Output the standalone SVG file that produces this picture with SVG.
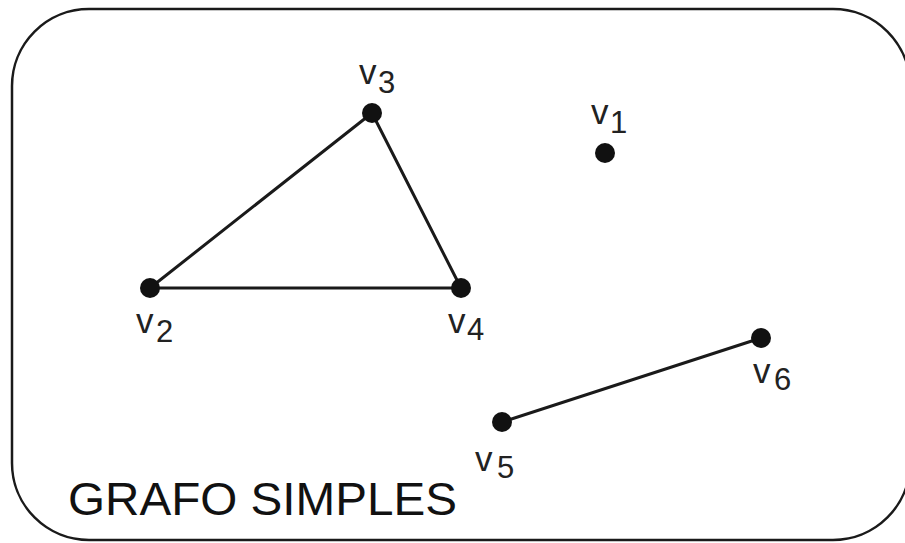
<svg xmlns="http://www.w3.org/2000/svg" width="905" height="543" viewBox="0 0 905 543">
<style>
.frame{fill:none;stroke:#1a1a1a;stroke-width:2.5}
.edge{stroke:#1a1a1a;stroke-width:3;stroke-linecap:round}
.dot{fill:#111}
.v{font-family:"Liberation Sans",Arial,sans-serif;font-size:35px;fill:#222}
.d{font-family:"Liberation Sans",Arial,sans-serif;font-size:31px;fill:#222}
.title{font-family:"Liberation Sans",Arial,sans-serif;font-size:46px;fill:#111}
</style>
<rect width="905" height="543" fill="#fff"/>
<rect class="frame" x="12" y="9" width="898" height="531" rx="77" ry="77"/>
<g id="connectors">
<line class="edge" x1="372" y1="113" x2="150" y2="288"/>
<line class="edge" x1="372" y1="113" x2="461" y2="288"/>
<line class="edge" x1="150" y1="288" x2="461" y2="288"/>
<line class="edge" x1="502" y1="422" x2="761" y2="338"/>
</g>
<g id="v1"><circle class="dot" cx="605" cy="153" r="10"/><text class="v" x="591" y="124">v</text><text class="d" x="610" y="133">1</text></g>
<g id="v2"><circle class="dot" cx="150" cy="288" r="10"/><text class="v" x="136" y="333">v</text><text class="d" x="156" y="342">2</text></g>
<g id="v3"><circle class="dot" cx="372" cy="113" r="10"/><text class="v" x="359" y="84">v</text><text class="d" x="378" y="93">3</text></g>
<g id="v4"><circle class="dot" cx="461" cy="288" r="10"/><text class="v" x="448" y="333">v</text><text class="d" x="467" y="340">4</text></g>
<g id="v5"><circle class="dot" cx="502" cy="422" r="10"/><text class="v" x="475" y="471">v</text><text class="d" x="497" y="478">5</text></g>
<g id="v6"><circle class="dot" cx="761" cy="338" r="10"/><text class="v" x="753" y="383">v</text><text class="d" x="774" y="390">6</text></g>
<text class="title" x="68" y="515" textLength="389" lengthAdjust="spacingAndGlyphs">GRAFO SIMPLES</text>
</svg>
